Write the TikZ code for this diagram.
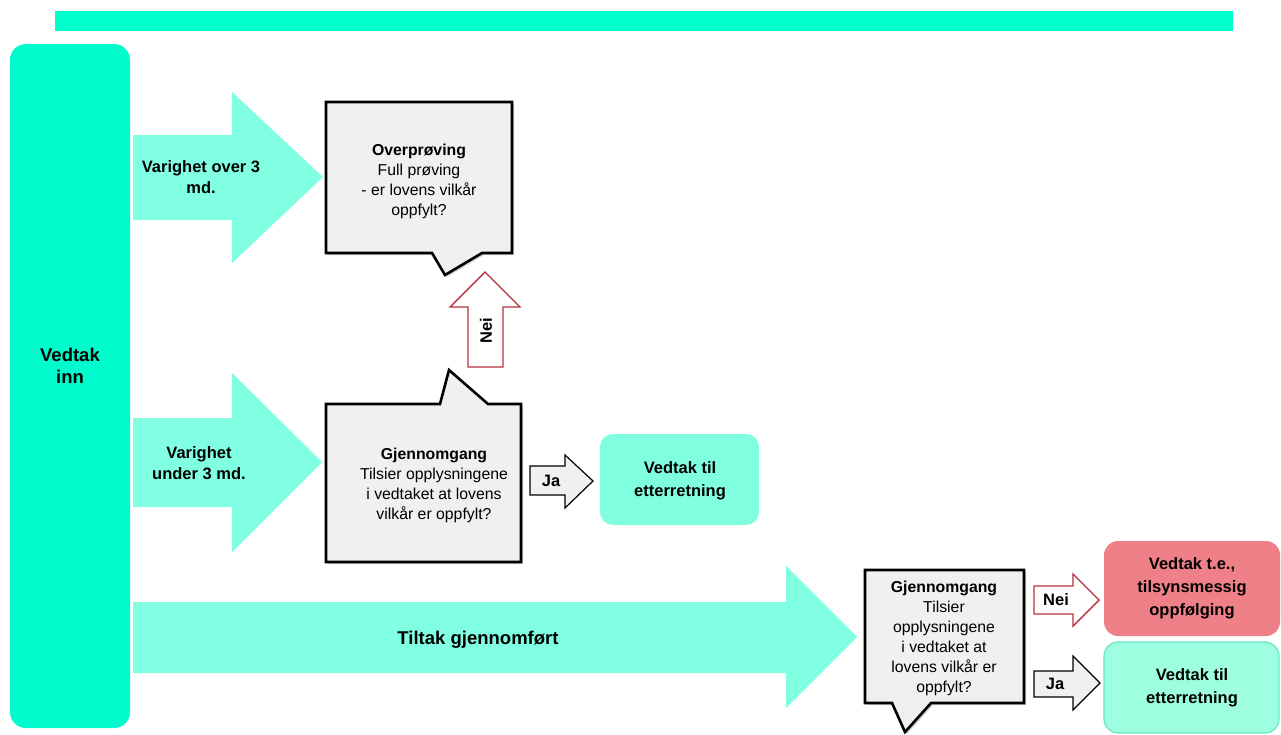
\documentclass[tikz,border=0pt]{standalone}
\usepackage{fontspec}
\setmainfont{Liberation Sans}
\usetikzlibrary{calc}
\definecolor{barcol}{HTML}{00FFCC}
\definecolor{panelcol}{HTML}{00FCCC}
\definecolor{flowcol}{HTML}{80FFE2}
\definecolor{boxgray}{HTML}{F0F0F0}
\definecolor{neired}{HTML}{B8323C}
\definecolor{redbox}{HTML}{EF8088}
\definecolor{okgreen}{HTML}{80FFE0}
\definecolor{okgreenb}{HTML}{9EFFE0}
\definecolor{okedge}{HTML}{66E6C6}
\tikzset{
  flowarrow/.style={fill=flowcol, draw=none},
  talkbox/.style={fill=boxgray, draw=black, line width=2.6pt, line join=miter},
  talkshadow/.style={fill=black, opacity=0.18, draw=none},
  noarrow/.style={fill=white, draw=neired, line width=1.4pt, line join=miter},
  yesarrow/.style={fill=boxgray, draw=black, line width=1.2pt, line join=miter},
  lbl/.style={font=\bfseries\fontsize{16.5}{21}\selectfont, align=center, inner sep=0pt},
  bigLbl/.style={font=\bfseries\fontsize{18.5}{22}\selectfont, align=center, inner sep=0pt},
  boxtxt/.style={font=\fontsize{15.8}{20}\selectfont, align=center, inner sep=0pt},
  result/.style={font=\bfseries\fontsize{16.5}{23}\selectfont, align=center, inner sep=0pt}
}
\begin{document}
\begin{tikzpicture}[x=1pt, y=-1pt]
\useasboundingbox (0,0) rectangle (1281,734);
\fill[white] (0,0) rectangle (1281,734);

% heading bar
\fill[barcol] (55,11) rectangle (1233,31);

% incoming decisions panel
\fill[panelcol, rounded corners=16pt] (10,44) rectangle (130,728);
\node[bigLbl] (inn) at (70,366) {Vedtak\\inn};

% flow arrows from the panel
\path[flowarrow] (133,135) -- (232,135) -- (232,92) -- (323,177) -- (232,263) -- (232,220) -- (133,220) -- cycle;
\node[lbl] (over) at (201,177) {Varighet over 3\\md.};

\path[flowarrow] (133,418) -- (232,418) -- (232,373) -- (322,462) -- (232,552) -- (232,507) -- (133,507) -- cycle;
\node[lbl] (under) at (199,463) {Varighet\\under 3 md.};

\path[flowarrow] (133,602) -- (786,602) -- (786,566) -- (857,637) -- (786,708) -- (786,673) -- (133,673) -- cycle;
\node[bigLbl] (tiltak) at (478,640) {Tiltak gjennomført};

% speech boxes
\path[talkshadow] (328,104) -- (514,104) -- (514,255) -- (484,255) -- (447,277) -- (434,255) -- (328,255) -- cycle;
\path[talkbox] (326,102) -- (512,102) -- (512,253) -- (482,253) -- (445,275) -- (432,253) -- (326,253) -- cycle;
\node[boxtxt] (overpr) at (419,181) {\textbf{Overprøving}\\Full prøving\\- er lovens vilkår\\oppfylt?};

\path[talkshadow] (328,406) -- (442,406) -- (451,372) -- (490,406) -- (523,406) -- (523,564) -- (328,564) -- cycle;
\path[talkbox] (326,404) -- (440,404) -- (449,370) -- (488,404) -- (521,404) -- (521,562) -- (326,562) -- cycle;
\node[boxtxt] (gj1) at (434,485) {\textbf{Gjennomgang}\\Tilsier opplysningene\\i vedtaket at lovens\\vilkår er oppfylt?};

\path[talkshadow] (867,572) -- (1026,572) -- (1026,705) -- (933,705) -- (907,734) -- (894,705) -- (867,705) -- cycle;
\path[talkbox] (865,570) -- (1024,570) -- (1024,703) -- (931,703) -- (905,732) -- (892,703) -- (865,703) -- cycle;
\node[boxtxt] (gj2) at (944,638) {\textbf{Gjennomgang}\\Tilsier\\opplysningene\\i vedtaket at\\lovens vilkår er\\oppfylt?};

% answer arrows
\path[noarrow] (468,367) -- (503,367) -- (503,307) -- (520,307) -- (485,272) -- (450,307) -- (468,307) -- cycle;
\node[lbl, rotate=90] (nei1) at (486,331) {Nei};

\path[yesarrow] (530,466) -- (565,466) -- (565,455) -- (593,481) -- (565,508) -- (565,495) -- (530,495) -- cycle;
\node[lbl] (ja1) at (551,481) {Ja};

\path[noarrow] (1034,586) -- (1073,586) -- (1073,574) -- (1099,600) -- (1073,626) -- (1073,614) -- (1034,614) -- cycle;
\node[lbl] (nei2) at (1056,600) {Nei};

\path[yesarrow] (1034,671) -- (1073,671) -- (1073,656) -- (1100,683) -- (1073,710) -- (1073,697) -- (1034,697) -- cycle;
\node[lbl] (ja2) at (1055,684) {Ja};

% outcomes
\fill[okgreen, rounded corners=13pt] (600,434) rectangle (759,525);
\node[result] (ok1) at (680,481) {Vedtak til\\etterretning};

\fill[redbox, rounded corners=14pt] (1104,541) rectangle (1280,636);
\node[result] (te) at (1192,588) {Vedtak t.e.,\\tilsynsmessig\\oppfølging};

\filldraw[fill=okgreenb, draw=okedge, line width=1.2pt, rounded corners=14pt] (1104,642) rectangle (1279,733);
\node[result] (ok2) at (1192,688) {Vedtak til\\etterretning};
\end{tikzpicture}
\end{document}
